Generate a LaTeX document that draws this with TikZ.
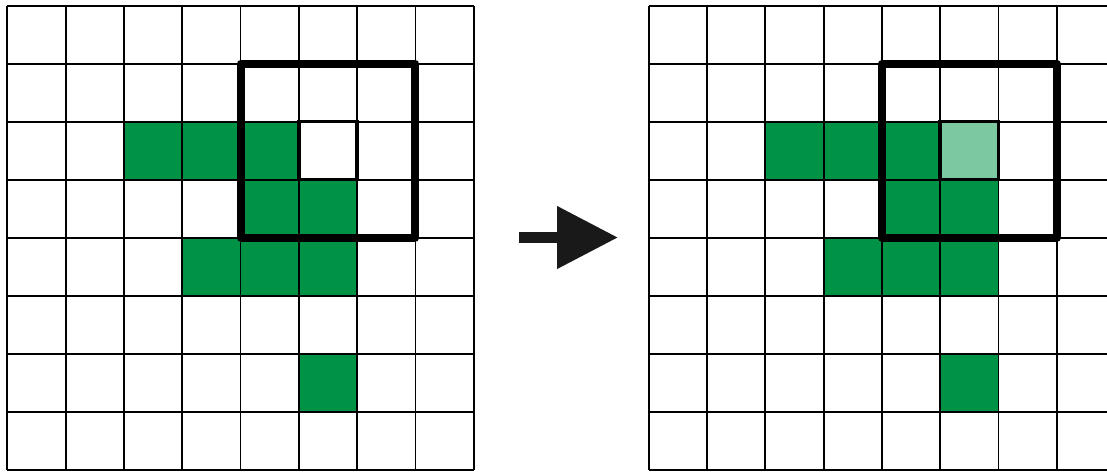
\documentclass[tikz,border=0pt]{standalone}
\usepackage{tikz}
\usetikzlibrary{arrows.meta}
\definecolor{cellgreen}{RGB}{0,146,69}
\definecolor{paleGreen}{RGB}{124,200,160}
\newcommand{\cw}{58.3}
\newcommand{\ch}{58}

\begin{document}
\begin{tikzpicture}[
      x=1pt, y=-1pt,
      gridline/.style={line width=1.8pt, black},
      cell/.style={fill=cellgreen},
      window/.style={line width=8pt, black, line join=round},
      centre/.style={line width=3.5pt, black},
      arrow/.style={-{Triangle[length=61pt,width=60pt]}, line width=11pt, black!90}
    ]
    \useasboundingbox (0,0) rectangle (1107,472);
    \clip (0,0) rectangle (1107,472);
    \foreach \ox/\tfill in {7.3/white, 648.7/paleGreen} {
      \begin{scope}[shift={(\ox,5.7)}]
        % green cells (column/row)
        \foreach \c/\r in {2/2,3/2,4/2,4/3,5/3,3/4,4/4,5/4,5/6}
          \fill[cell] (\c*\cw,\r*\ch) rectangle ++(\cw,\ch);
        \fill[\tfill] (5*\cw,2*\ch) rectangle ++(\cw,\ch);
        % grid
        \foreach \i in {0,...,8} {
          \draw[gridline] (\i*\cw,0) -- (\i*\cw,8*\ch);
          \draw[gridline] (0,\i*\ch) -- (8*\cw,\i*\ch);
        }
        \draw[centre] (5*\cw,2*\ch) rectangle ++(\cw,\ch);
        \draw[window] (4*\cw,\ch) rectangle (7*\cw,4*\ch);
      \end{scope}
    }
    \coordinate (tail) at (519,237.5);
    \coordinate (head) at (618,237.5);
    \draw[arrow] (tail) -- (head);
\end{tikzpicture}
\end{document}
